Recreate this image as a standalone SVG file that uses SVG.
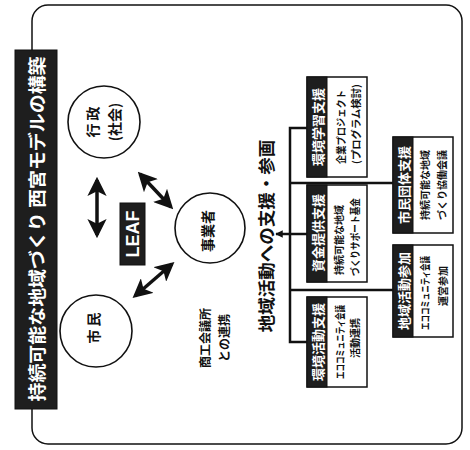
<svg xmlns="http://www.w3.org/2000/svg" width="470" height="450" viewBox="0 0 470 450">
<defs>
<marker id="ah" viewBox="0 0 12 12" refX="10" refY="6" markerWidth="5.5" markerHeight="5.5" orient="auto-start-reverse" markerUnits="strokeWidth">
<path d="M0,0 L12,6 L0,12 L3,6 z" fill="#111"/>
</marker>
<marker id="sa" viewBox="0 0 10 10" refX="9" refY="5" markerWidth="3" markerHeight="3" orient="auto" markerUnits="strokeWidth">
<path d="M0,0 L10,5 L0,10 z" fill="#111"/>
</marker>
</defs>
<style>
text{font-family:"Noto Sans CJK JP","Noto Sans",sans-serif;}
.frame{fill:#fff;stroke:#111;stroke-width:1.5;}
.dark{fill:#1e1e1e;stroke:#111;stroke-width:1;}
.circ{fill:#fff;stroke:#111;stroke-width:1.6;}
.box{fill:#fff;stroke:#111;stroke-width:1.5;}
.wt{fill:#fff;font-weight:bold;}
.bk{fill:#111;font-weight:bold;}
.dbl{stroke:#111;stroke-width:3.5;fill:none;}
.tree{stroke:#111;stroke-width:2.5;fill:none;}
.lab{font-size:13px;}
.body{font-size:10px;font-weight:bold;fill:#111;}
</style>
<rect class="frame" x="32" y="5" width="430" height="439" rx="16"/>
<g id="title">
<rect class="dark" x="15" y="50" width="42" height="359"/>
<text class="wt" font-size="18" text-anchor="middle" dominant-baseline="central" transform="translate(36,229) rotate(-90)" textLength="345" lengthAdjust="spacingAndGlyphs">持続可能な地域づくり 西宮モデルの構築</text>
</g>
<g id="gyosei">
<circle class="circ" cx="104" cy="122" r="36"/>
<text class="bk" font-size="14" text-anchor="middle" dominant-baseline="central" transform="translate(92,122) rotate(-90)">行 政</text>
<text class="bk" font-size="14" text-anchor="middle" dominant-baseline="central" transform="translate(114,122) rotate(-90)">(社会)</text>
</g>
<g id="shimin">
<circle class="circ" cx="96" cy="331" r="36"/>
<text class="bk" font-size="14" text-anchor="middle" dominant-baseline="central" transform="translate(93,328) rotate(-90)">市 民</text>
</g>
<g id="jigyosha">
<circle class="circ" cx="210" cy="228" r="35"/>
<text class="bk" font-size="14" text-anchor="middle" dominant-baseline="central" transform="translate(207,231) rotate(-90)">事業者</text>
</g>
<g id="leaf">
<rect class="dark" x="120" y="203" width="25" height="62"/>
<text class="wt" style="font-family:'Liberation Sans',Arial,sans-serif" font-size="18" text-anchor="middle" dominant-baseline="central" transform="translate(133,234) rotate(-90)">LEAF</text>
</g>
<g id="shoko">
<text class="bk" font-size="12" text-anchor="middle" dominant-baseline="central" transform="translate(204,338) rotate(-90)">商工会議所</text>
<text class="bk" font-size="12" text-anchor="middle" dominant-baseline="central" transform="translate(223,338) rotate(-90)">との連携</text>
</g>
<g id="heading">
<text class="bk" font-size="17.5" text-anchor="middle" dominant-baseline="central" transform="translate(265,236) rotate(-90)">地域活動への支援・参画</text>
</g>
<g id="b1">
<rect class="box" x="307" y="77" width="60" height="100"/>
<rect class="dark" x="307" y="77" width="20" height="100"/>
<text class="wt lab" text-anchor="middle" dominant-baseline="central" transform="translate(317,127) rotate(-90)">環境学習支援</text>
<text class="body" text-anchor="middle" dominant-baseline="central" transform="translate(340,127) rotate(-90)" textLength="74" lengthAdjust="spacingAndGlyphs">企業プロジェクト</text>
<text class="body" text-anchor="middle" dominant-baseline="central" transform="translate(355,124) rotate(-90)" textLength="80" lengthAdjust="spacingAndGlyphs">(プログラム検討)</text>
</g>
<g id="b2">
<rect class="box" x="307" y="185" width="60" height="97"/>
<rect class="dark" x="307" y="185" width="20" height="97"/>
<text class="wt lab" text-anchor="middle" dominant-baseline="central" transform="translate(317,233) rotate(-90)">資金提供支援</text>
<text class="body" text-anchor="middle" dominant-baseline="central" transform="translate(338,240) rotate(-90)">持続可能な地域</text>
<text class="body" text-anchor="middle" dominant-baseline="central" transform="translate(354,237) rotate(-90)" textLength="78" lengthAdjust="spacingAndGlyphs">づくりサポート基金</text>
</g>
<g id="b3">
<rect class="box" x="307" y="297" width="60" height="90"/>
<rect class="dark" x="307" y="297" width="20" height="90"/>
<text class="wt lab" text-anchor="middle" dominant-baseline="central" transform="translate(317,342) rotate(-90)">環境活動支援</text>
<text class="body" text-anchor="middle" dominant-baseline="central" transform="translate(339,342) rotate(-90)" textLength="74" lengthAdjust="spacingAndGlyphs">エココミュニティ会議</text>
<text class="body" text-anchor="middle" dominant-baseline="central" transform="translate(354,338) rotate(-90)">活動連携</text>
</g>
<g id="b4">
<rect class="box" x="393" y="137" width="60" height="96"/>
<rect class="dark" x="393" y="137" width="20" height="96"/>
<text class="wt lab" text-anchor="middle" dominant-baseline="central" transform="translate(403,185) rotate(-90)">市民団体支援</text>
<text class="body" text-anchor="middle" dominant-baseline="central" transform="translate(424,185) rotate(-90)">持続可能な地域</text>
<text class="body" text-anchor="middle" dominant-baseline="central" transform="translate(441,185) rotate(-90)">づくり協働会議</text>
</g>
<g id="b5">
<rect class="box" x="393" y="245" width="60" height="92"/>
<rect class="dark" x="393" y="245" width="20" height="92"/>
<text class="wt lab" text-anchor="middle" dominant-baseline="central" transform="translate(403,291) rotate(-90)">地域活動参加</text>
<text class="body" text-anchor="middle" dominant-baseline="central" transform="translate(424,293) rotate(-90)" textLength="74" lengthAdjust="spacingAndGlyphs">エココミュニティ会議</text>
<text class="body" text-anchor="middle" dominant-baseline="central" transform="translate(442,286) rotate(-90)">運営参加</text>
</g>
<g id="connectors">
<line class="dbl" x1="97" y1="180" x2="97" y2="235" marker-start="url(#ah)" marker-end="url(#ah)"/>
<line class="dbl" x1="140" y1="174" x2="171" y2="207" marker-start="url(#ah)" marker-end="url(#ah)"/>
<line class="dbl" x1="135" y1="296" x2="172" y2="264" marker-start="url(#ah)" marker-end="url(#ah)"/>
<path class="tree" d="M307,128 H290 V342 H307"/>
<path class="tree" d="M290,183 H393"/>
<path class="tree" d="M290,290 H393"/>
<line class="tree" x1="307" y1="234" x2="276" y2="234" marker-end="url(#sa)"/>
</g>
</svg>
